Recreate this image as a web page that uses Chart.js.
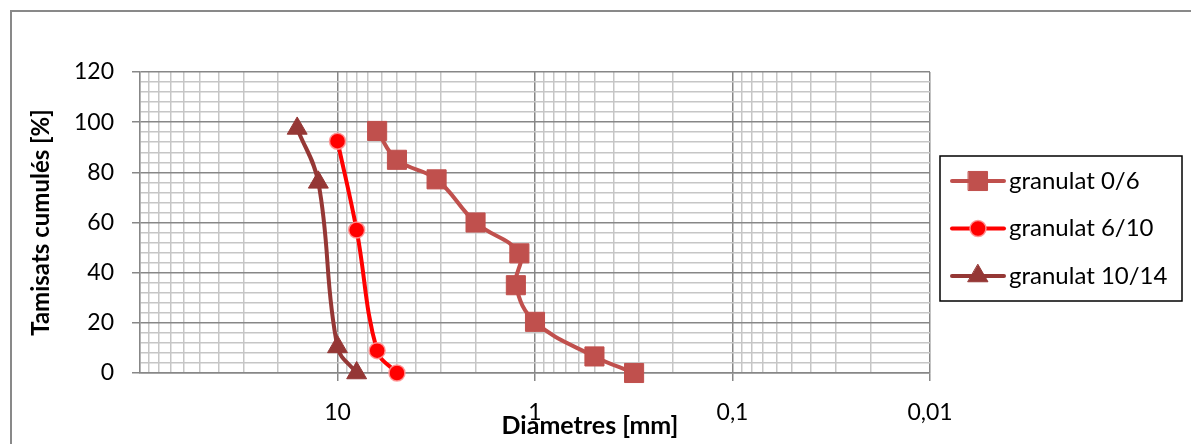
<!DOCTYPE html>
<html>
<head>
<meta charset="utf-8">
<script src="https://cdn.jsdelivr.net/npm/chart.js@4.4.0/dist/chart.umd.min.js"></script>
<style>
  html, body { margin: 0; padding: 0; background: #fff; }
  canvas { display: block; }
</style>
</head>
<body>
<canvas id="chart" width="1191" height="444"></canvas>
<script>
// sieve diameter (mm) and cumulative passing (%) for each aggregate
const diam06 = [6.3, 5, 3.15, 2, 1.2, 1.25, 1, 0.5, 0.315];
const pass06 = [96.5, 85, 77.2, 60, 47.7, 35, 20.4, 6.6, 0];
const diam610 = [10, 8, 6.3, 5];
const pass610 = [92.4, 57, 8.9, 0];
const diam1014 = [16, 12.5, 10, 8];
const pass1014 = [97.5, 76, 10.4, 0];

const seriesNames = ['granulat 0/6', 'granulat 6/10', 'granulat 10/14'];

const xMajorTicks = [10, 1, 0.1, 0.01];
const xMajorLabels = ['10', '1', '0,1', '0,01'];
const yMajorTicks = [0, 20, 40, 60, 80, 100, 120];

const FONT = 'Lato';
const MAJOR = '#878787';
const MINOR = '#c6c6c6';

function toPoints(xs, ys) {
    return xs.map((x, i) => ({ x: x, y: ys[i] }));
}

// grid values: 1..9 inside each decade, from 100 down to 0.01
function logGrid() {
    const out = [];
    for (let e = -2; e < 2; e++) {
        for (let k = 1; k < 10; k++) {
            out.push(+(k * Math.pow(10, e)).toPrecision(3));
        }
    }
    out.push(100);
    return out;
}

function isMajorX(v) {
    return xMajorTicks.some(m => Math.abs(Math.log10(v) - Math.log10(m)) < 1e-6);
}

const frame = {
    id: 'frame',
    beforeDraw(chart) {
        const ctx = chart.ctx;
        ctx.save();
        ctx.fillStyle = '#fff';
        ctx.fillRect(0, 0, chart.width, chart.height);
        ctx.strokeStyle = '#898989';
        ctx.lineWidth = 2;
        ctx.strokeRect(11, 11, chart.width + 40, chart.height + 40);
        ctx.restore();
    }
};

function marker(ctx, ds, x, y) {
    ctx.fillStyle = ds.pointBackgroundColor;
    ctx.strokeStyle = ds.pointBorderColor;
    ctx.lineWidth = ds.pointBorderWidth;
    Chart.helpers.drawPoint(ctx, {
        pointStyle: ds.pointStyle,
        radius: ds.pointRadius,
        borderWidth: ds.pointBorderWidth,
        rotation: 0
    }, x, y);
}

const annotations = {
    id: 'annotations',
    afterDraw(chart) {
        const ctx = chart.ctx;
        const area = chart.chartArea;
        ctx.save();
        ctx.fillStyle = '#000';
        ctx.font = 'bold 25px ' + FONT;
        ctx.textAlign = 'center';
        ctx.textBaseline = 'middle';
        ctx.fillText('Diametres [mm]', 590, 426);
        ctx.save();
        ctx.translate(41, (area.top + area.bottom) / 2);
        ctx.rotate(-Math.PI / 2);
        ctx.font = 'bold 24px ' + FONT;
        ctx.fillText('Tamisats cumulés [%]', 0, 0);
        ctx.restore();

        // legend box
        ctx.strokeStyle = '#000';
        ctx.lineWidth = 1.5;
        ctx.strokeRect(940, 156, 242, 145);
        chart.data.datasets.forEach((ds, i) => {
            const y = 181 + i * 47.5;
            ctx.strokeStyle = ds.borderColor;
            ctx.lineWidth = ds.borderWidth;
            ctx.lineCap = 'round';
            ctx.beginPath();
            ctx.moveTo(952, y);
            ctx.lineTo(1004, y);
            ctx.stroke();
            marker(ctx, ds, 978, y);
            ctx.fillStyle = '#000';
            ctx.font = '24px ' + FONT;
            ctx.textAlign = 'left';
            ctx.fillText(ds.label, 1009, y);
        });
        ctx.restore();
    }
};

new Chart(document.getElementById('chart'), {
    type: 'line',
    data: {
        datasets: [
            {
                label: seriesNames[0],
                data: toPoints(diam06, pass06),
                borderColor: '#c0504d',
                borderWidth: 4,
                pointStyle: 'rect',
                pointRadius: 13.5,
                pointBackgroundColor: '#c0504d',
                pointBorderColor: '#c0504d',
                pointBorderWidth: 1,
                tension: 0.4,
                clip: false
            },
            {
                label: seriesNames[1],
                data: toPoints(diam610, pass610),
                borderColor: '#ff0000',
                borderWidth: 4,
                pointStyle: 'circle',
                pointRadius: 8,
                pointBackgroundColor: '#ff0000',
                pointBorderColor: 'rgba(255,150,150,0.9)',
                pointBorderWidth: 1.5,
                tension: 0.4,
                clip: false
            },
            {
                label: seriesNames[2],
                data: toPoints(diam1014, pass1014),
                borderColor: '#953735',
                borderWidth: 4,
                pointStyle: 'triangle',
                pointRadius: 11.5,
                pointBackgroundColor: '#953735',
                pointBorderColor: '#953735',
                pointBorderWidth: 1,
                tension: 0.4,
                clip: false
            }
        ]
    },
    options: {
        responsive: false,
        animation: false,
        events: [],
        layout: { padding: { top: 72, right: 261, left: 0, bottom: 0 } },
        plugins: {
            legend: { display: false },
            tooltip: { enabled: false }
        },
        scales: {
            x: {
                type: 'logarithmic',
                reverse: true,
                min: 0.01,
                max: 100,
                afterFit: s => { s.height = 71; },
                afterBuildTicks: s => { s.ticks = logGrid().map(v => ({ value: v })); },
                ticks: {
                    autoSkip: false,
                    maxRotation: 0,
                    padding: 18,
                    color: '#000',
                    font: { family: FONT, size: 23 },
                    callback: v => {
                        const i = xMajorTicks.findIndex(m => Math.abs(Math.log10(v) - Math.log10(m)) < 1e-6);
                        return i >= 0 ? xMajorLabels[i] : '';
                    }
                },
                grid: {
                    color: c => (c.tick && isMajorX(c.tick.value)) ? MAJOR : MINOR,
                    lineWidth: 1.5,
                    tickLength: 8,
                    tickColor: c => (c.tick && isMajorX(c.tick.value)) ? MAJOR : 'transparent',
                    tickWidth: 1.5
                },
                border: { color: MAJOR, width: 1.5 }
            },
            y: {
                min: 0,
                max: 120,
                afterFit: s => { s.width = 140; },
                afterBuildTicks: s => {
                    const t = [];
                    for (let v = 0; v <= 120; v += 4) t.push({ value: v });
                    s.ticks = t;
                },
                ticks: {
                    autoSkip: false,
                    padding: 18,
                    color: '#000',
                    font: { family: FONT, size: 23 },
                    callback: v => yMajorTicks.includes(v) ? String(v) : ''
                },
                grid: {
                    color: c => (c.tick && yMajorTicks.includes(c.tick.value)) ? MAJOR : MINOR,
                    lineWidth: 1.5,
                    tickLength: 8,
                    tickColor: c => (c.tick && yMajorTicks.includes(c.tick.value)) ? MAJOR : 'transparent',
                    tickWidth: 1.5
                },
                border: { color: MAJOR, width: 1.5 }
            }
        }
    },
    plugins: [frame, annotations]
});
</script>
</body>
</html>
